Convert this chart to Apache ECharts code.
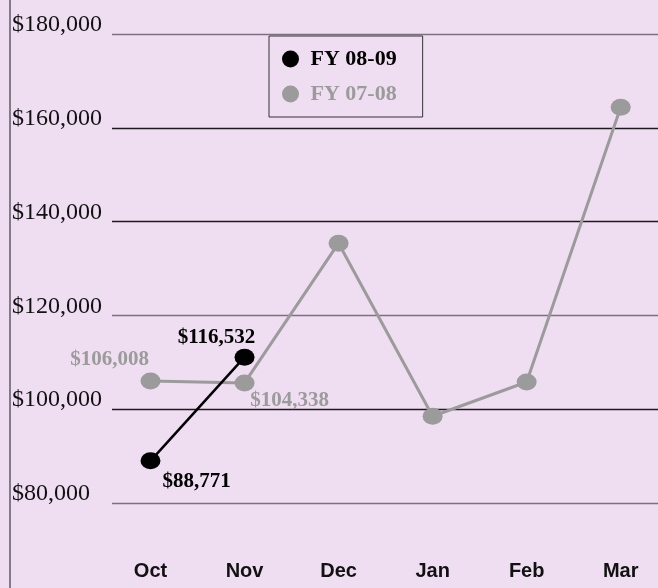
<!DOCTYPE html>
<html>
<head>
<meta charset="utf-8">
<script src="https://cdn.jsdelivr.net/npm/echarts@6/dist/echarts.min.js"></script>
<style>
html,body{margin:0;padding:0;background:#efdef1;}
#chart{width:658px;height:588px;}
</style>
</head>
<body>
<div id="chart"></div>
<script>
var months = ['Oct', 'Nov', 'Dec', 'Jan', 'Feb', 'Mar'];
var fy0809 = [89000, 111100];
var fy0708 = [106000, 105600, 135400, 98500, 105800, 164400];
var fy0809Labels = ['$88,771', '$116,532'];
var fy0708Labels = ['$106,008', '$104,338', '', '', '', ''];
var yMin = 80000, yMax = 180000, yStep = 20000;

var chart = echarts.init(document.getElementById('chart'));
var serif = '"Liberation Serif", "Times New Roman", serif';
var fy0809Offsets = [[46, 21], [-28, -20]];
var fy0708Offsets = [[-41, -21], [45, 18]];

function buildData(vals, labels, offsets, color) {
  return vals.map(function (v, i) {
    var d = { value: v };
    if (labels[i]) {
      d.label = {
        show: true, position: 'inside', offset: offsets[i],
        formatter: labels[i], color: color,
        fontFamily: serif, fontWeight: 'bold', fontSize: 21
      };
    }
    return d;
  });
}

chart.setOption({
  backgroundColor: '#efdef1',
  animation: false,
  graphic: [{
    type: 'line', shape: { x1: 10, y1: 0, x2: 10, y2: 588 },
    style: { stroke: '#5f5a62', lineWidth: 1.5 }
  }],
  legend: {
    left: 269, top: 36, orient: 'vertical',
    padding: [12, 26, 12, 13],
    borderColor: '#333', borderWidth: 1,
    itemWidth: 20, itemHeight: 17, itemGap: 13,
    icon: 'circle',
    textStyle: { fontFamily: serif, fontWeight: 'bold', fontSize: 22, lineHeight: 22, padding: [0, 0, 0, 5] },
    data: [
      { name: 'FY 08-09', textStyle: { color: '#000' } },
      { name: 'FY 07-08', textStyle: { color: '#9b9b9b' } }
    ]
  },
  grid: [
    { left: 112, right: 0, top: 34, bottom: 85 },
    { left: 150.5, right: 37.3, top: 34, bottom: 85 }
  ],
  xAxis: [
    { gridIndex: 0, type: 'value', show: false, min: 0, max: 1 },
    {
      gridIndex: 1, type: 'category', data: months, boundaryGap: false,
      axisLine: { show: false }, axisTick: { show: false },
      axisLabel: { margin: 58, color: '#111', fontFamily: '"Liberation Sans", Arial, sans-serif', fontWeight: 'bold', fontSize: 20 }
    }
  ],
  yAxis: [
    {
      gridIndex: 0, type: 'value', min: yMin, max: yMax, interval: yStep,
      axisLine: { show: false }, axisTick: { show: false },
      splitLine: { show: true, lineStyle: { width: 1.4, color: ['#7b6f80', '#1c1a1e', '#7b6f80', '#1c1a1e', '#1c1a1e', '#7b6f80'] } },
      axisLabel: {
        align: 'left', margin: 100, verticalAlign: 'bottom', lineHeight: 18,
        color: '#111', fontFamily: serif, fontSize: 24,
        formatter: function (v) { return '$' + v.toLocaleString('en-US'); }
      }
    },
    { gridIndex: 1, type: 'value', min: yMin, max: yMax, interval: yStep, show: false, splitLine: { show: false } }
  ],
  series: [
    {
      name: 'FY 07-08', type: 'line', xAxisIndex: 1, yAxisIndex: 1, clip: false,
      data: buildData(fy0708, fy0708Labels, fy0708Offsets, '#9b9b9b'),
      symbol: 'circle', symbolSize: [20, 17], showAllSymbol: true,
      itemStyle: { color: '#9b9b9b' },
      lineStyle: { color: '#9b9b9b', width: 3 },
      z: 2
    },
    {
      name: 'FY 08-09', type: 'line', xAxisIndex: 1, yAxisIndex: 1, clip: false,
      data: buildData(fy0809, fy0809Labels, fy0809Offsets, '#000'),
      symbol: 'circle', symbolSize: [20, 17],
      itemStyle: { color: '#000' },
      lineStyle: { color: '#000', width: 2.5 },
      z: 3
    }
  ]
});
</script>
</body>
</html>
